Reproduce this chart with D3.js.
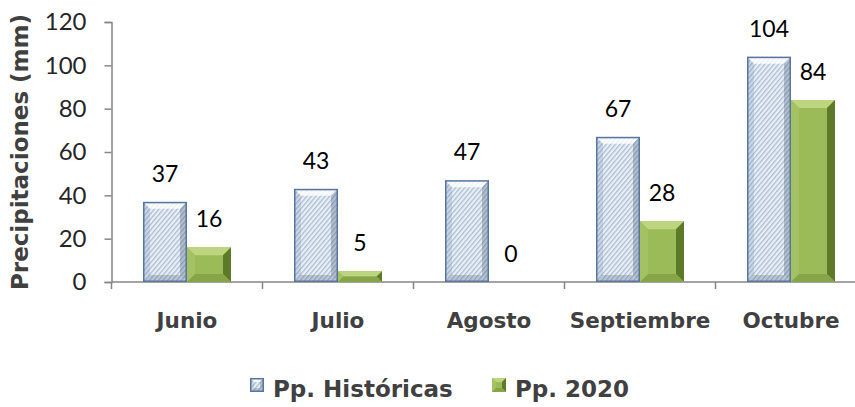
<!DOCTYPE html>
<html>
<head>
<meta charset="utf-8">
<script src="https://cdn.jsdelivr.net/npm/d3@7"></script>
<style>
  body { margin: 0; background: #fff; }
</style>
</head>
<body>
<div id="chart"></div>
<script>
const categories = ["Junio", "Julio", "Agosto", "Septiembre", "Octubre"];
const historicas = [37, 43, 47, 67, 104];
const pp2020 = [16, 5, 0, 28, 84];
const yTicks = [0, 20, 40, 60, 80, 100, 120];
const seriesNames = ["Pp. Históricas", "Pp. 2020"];

const width = 855, height = 407;
const boldFont = "DejaVu Sans, sans-serif";
const numFont = "Lato, sans-serif";
const svg = d3.select("#chart").append("svg")
    .attr("width", width).attr("height", height);

const defs = svg.append("defs");
// hatch for the historical bars
const pat = defs.append("pattern").attr("id", "hatch")
    .attr("patternUnits", "userSpaceOnUse").attr("width", 3.5).attr("height", 3.5)
    .attr("patternTransform", "rotate(40)");
pat.append("rect").attr("width", 3.5).attr("height", 3.5).attr("fill", "#e8eff8");
pat.append("rect").attr("width", 1.3).attr("height", 3.5).attr("fill", "#adbdd0");

const x = d3.scaleBand().domain(categories).range([111.5, 866.5]);
const y = d3.scaleLinear().domain([0, 120]).range([282, 22]);
const barW = 44;

// axes
const yAxis = svg.append("g").attr("transform", "translate(111.5,0)")
    .call(d3.axisLeft(y).tickValues(yTicks).tickSize(7).tickPadding(18));
yAxis.attr("font-family", numFont).attr("font-size", 24);
yAxis.select(".domain").attr("stroke", "#868686").attr("stroke-width", 1.5);
yAxis.selectAll(".tick line").attr("stroke", "#868686").attr("stroke-width", 1.5);
yAxis.selectAll(".tick text").attr("fill", "#262626");

const xg = svg.append("g");
xg.append("line").attr("x1", 111.5).attr("x2", width).attr("y1", y(0)).attr("y2", y(0))
    .attr("stroke", "#868686").attr("stroke-width", 1.5);
xg.selectAll("line.tk").data(categories).join("line").attr("class", "tk")
    .attr("x1", d => x(d)).attr("x2", d => x(d))
    .attr("y1", y(0)).attr("y2", y(0) + 7)
    .attr("stroke", "#868686").attr("stroke-width", 1.5);
xg.selectAll("text").data(categories).join("text")
    .attr("x", d => x(d) + x.bandwidth() / 2).attr("y", 328)
    .attr("text-anchor", "middle").attr("font-family", boldFont)
    .attr("font-size", 21.5).attr("font-weight", "bold")
    .attr("fill", "#404040").text(d => d);

// bevelled bar
function bevelBar(g, bx, by, w, h, style) {
  if (h <= 0) return;
  const b = Math.min(style.bevel, h / 2, w / 2);
  g.append("rect").attr("x", bx).attr("y", by).attr("width", w).attr("height", h)
      .attr("fill", style.fill);
  const faces = [
    [[bx, by], [bx + w, by], [bx + w - b, by + b], [bx + b, by + b], style.top],
    [[bx, by], [bx + b, by + b], [bx + b, by + h - b], [bx, by + h], style.left],
    [[bx + w, by], [bx + w, by + h], [bx + w - b, by + h - b], [bx + w - b, by + b], style.right],
    [[bx, by + h], [bx + b, by + h - b], [bx + w - b, by + h - b], [bx + w, by + h], style.bottom]
  ];
  faces.forEach(f => {
    g.append("polygon").attr("points", f.slice(0, 4).map(p => p.join(",")).join(" "))
        .attr("fill", f[4]);
  });
  if (style.stroke) {
    g.append("rect").attr("x", bx + 0.75).attr("y", by + 0.75)
        .attr("width", w - 1.5).attr("height", Math.max(0, h - 1.5))
        .attr("fill", "none").attr("stroke", style.stroke).attr("stroke-width", 1.5);
  }
}

const histStyle = {
  fill: "url(#hatch)", bevel: 7, stroke: "#56759f",
  top: "rgba(255,255,255,0.8)", left: "rgba(120,145,180,0.25)",
  right: "rgba(60,80,110,0.3)", bottom: "rgba(90,105,130,0.3)"
};
const greenStyle = {
  fill: "#9bbb59", bevel: 8, stroke: null,
  top: "#bcd57e", left: "#a4c163", right: "#5d7a28", bottom: "#86a448"
};

const bars = svg.append("g");
categories.forEach((c, i) => {
  const cx = x(c) + x.bandwidth() / 2;
  bevelBar(bars, cx - barW, y(historicas[i]), barW, y(0) - y(historicas[i]), histStyle);
  bevelBar(bars, cx, y(pp2020[i]), barW, y(0) - y(pp2020[i]), greenStyle);
});

// data labels
const labels = svg.append("g").attr("font-size", 23).attr("fill", "#000")
    .attr("text-anchor", "middle").attr("font-family", numFont);
categories.forEach((c, i) => {
  const cx = x(c) + x.bandwidth() / 2;
  labels.append("text").attr("x", cx - barW / 2).attr("y", y(historicas[i]) - 20)
      .text(historicas[i]);
  labels.append("text").attr("x", cx + barW / 2).attr("y", y(pp2020[i]) - 20)
      .text(pp2020[i]);
});

// y axis title
svg.append("text")
    .attr("transform", "translate(28,152) rotate(-90)")
    .attr("text-anchor", "middle").attr("font-family", boldFont)
    .attr("font-size", 23).attr("font-weight", "bold")
    .attr("fill", "#404040").text("Precipitaciones (mm)");

// legend
const legend = svg.append("g");
const legendX = [250, 492];
const legStyles = [histStyle, greenStyle];
seriesNames.forEach((n, i) => {
  const g = legend.append("g");
  bevelBar(g, legendX[i], 378, 14, 14, Object.assign({}, legStyles[i], {bevel: 4}));
  g.append("text").attr("x", legendX[i] + 23).attr("y", 397)
      .attr("font-family", boldFont).attr("font-size", 23).attr("font-weight", "bold")
      .attr("fill", "#404040").text(n);
});
</script>
</body>
</html>
